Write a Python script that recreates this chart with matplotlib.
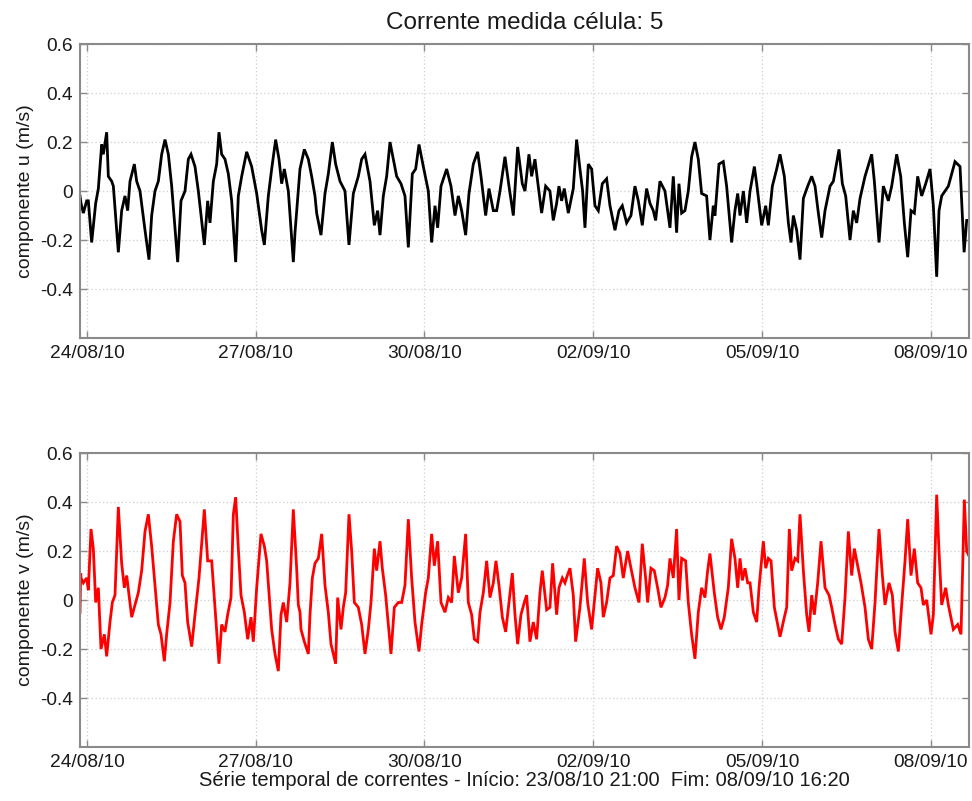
import datetime as dt
import numpy as np
import matplotlib
matplotlib.use("Agg")
import matplotlib.pyplot as plt
import matplotlib.dates as mdates

plt.rcParams['font.family'] = ['Liberation Sans', 'DejaVu Sans']

start = dt.datetime(2010, 8, 23, 21, 0)
end = dt.datetime(2010, 9, 8, 16, 20)

# hours since start, u component (m/s)
u_hours = [0, 0.43, 1.43, 2.85, 3.56, 4.98, 6.69, 7.83, 9.25, 9.96, 11.38, 12.09, 13.52, 14.23, 16.36, 17.78,
           19.2, 20.34, 21.34, 23.19, 24.18, 25.6, 27.74, 29.44, 30.58, 32.0, 33.43, 34.85, 36.27, 37.7, 39.12,
           41.68, 43.1, 44.81, 46.23, 47.37, 49.07, 50.5, 53.06, 54.48, 55.47, 56.9, 58.32, 59.31, 60.45, 61.87,
           63.3, 64.72, 66.43, 67.56, 68.99, 71.12, 73.25, 75.39, 77.52, 78.66, 80.36, 81.79, 83.49, 84.91, 86.05,
           87.19, 88.9, 91.03, 91.74, 93.87, 95.72, 97.43, 98.85, 100.27, 100.98, 102.83, 104.54, 105.96, 107.67,
           109.09, 110.94, 113.07, 114.78, 116.63, 118.76, 120.19, 121.61, 123.74, 125.59, 127.01, 128.01, 129.43,
           130.85, 132.28, 133.7, 135.12, 136.97, 138.67, 140.1, 141.8, 143.23, 144.65, 146.5, 148.63, 150.05,
           151.48, 152.61, 154.04, 156.45, 158.3, 160.01, 161.43, 162.86, 164.56, 165.98, 167.83, 169.68, 171.1,
           173.1, 174.52, 176.37, 177.79, 179.21, 181.34, 183.05, 184.9, 186.75, 188.73, 189.87, 191.57, 192.71,
           194.13, 195.27, 196.98, 198.69, 200.53, 201.96, 203.38, 204.37, 205.51, 206.65, 208.36, 210.49, 211.91,
           213.33, 214.47, 215.47, 216.89, 218.31, 219.74, 221.16, 222.87, 224.71, 226.14, 228.27, 229.98, 231.4,
           233.25, 235.1, 236.8, 238.23, 239.93, 241.78, 243.2, 244.62, 245.62, 247.47, 249.6, 251.74, 253.16,
           254.58, 255.58, 256.72, 258.14, 259.56, 260.98, 262.4, 263.83, 265.25, 267.38, 268.8, 270.23, 270.94,
           272.65, 274.49, 275.92, 278.05, 279.47, 280.64, 281.63, 283.06, 284.48, 285.9, 287.75, 288.74, 290.88,
           292.59, 293.72, 295.43, 297.28, 298.7, 300.55, 302.26, 303.39, 304.39, 305.81, 307.23, 308.66, 310.51,
           312.21, 313.64, 315.06, 316.48, 317.9, 320.04, 321.46, 323.88, 325.3, 326.72, 328.57, 329.99, 331.41,
           332.84, 334.97, 337.81, 338.95, 340.94, 342.79, 344.93, 346.35, 348.48, 350.19, 351.75, 353.18, 354.6,
           356.02, 357.44, 359.15, 360.86, 362.71, 364.13, 365.55, 366.55, 367.68, 370.53, 373.37, 375.51, 377.25,
           378.35, 379.33]
u_values = [-0.02, -0.05, -0.09, -0.04, -0.04, -0.21, -0.05, 0.01, 0.19, 0.15, 0.24, 0.06, 0.04, 0.02, -0.25, -0.08,
            -0.02, -0.08, 0.04, 0.11, 0.04, 0.0, -0.16, -0.28, -0.10, 0.0, 0.04, 0.15, 0.21, 0.15, 0.02,
            -0.29, -0.04, 0.0, 0.13, 0.15, 0.10, 0.0, -0.22, -0.04, -0.13, 0.04, 0.11, 0.24, 0.15, 0.13,
            0.07, -0.04, -0.29, -0.02, 0.06, 0.16, 0.10, -0.01, -0.16, -0.22, -0.02, 0.09, 0.21, 0.13, 0.03,
            0.09, 0.0, -0.29, -0.17, 0.09, 0.17, 0.13, 0.06, -0.02, -0.09, -0.18, -0.01, 0.07, 0.20,
            0.11, 0.04, 0.0, -0.22, -0.01, 0.06, 0.13, 0.15, 0.04, -0.14, -0.08, -0.18, -0.02,
            0.06, 0.20, 0.13, 0.06, 0.03, -0.02, -0.23, 0.07, 0.09, 0.19, 0.10, 0.0, -0.21,
            -0.06, -0.15, 0.02, 0.09, 0.02, -0.10, -0.02, -0.08, -0.18, -0.01, 0.11, 0.16, 0.06,
            -0.10, 0.01, -0.08, -0.08, 0.0, 0.14, 0.02, -0.10, 0.18, 0.03, 0.0, 0.15, 0.06,
            0.13, 0.04, -0.09, 0.02, 0.0, -0.12, -0.05, 0.02, -0.04, 0.01, -0.09, 0.01, 0.21,
            0.09, 0.0, -0.15, 0.11, 0.09, -0.06, -0.08, 0.03, 0.05, -0.06, -0.16, -0.08, -0.06,
            -0.13, -0.10, 0.02, -0.04, -0.14, 0.01, -0.05, -0.08, -0.12, 0.04, 0.0, -0.15, 0.06,
            -0.17, 0.03, -0.09, -0.08, 0.0, 0.14, 0.20, 0.13, -0.01, -0.02, -0.20, -0.06, -0.10,
            0.11, 0.12, 0.02, -0.21, -0.08, -0.01, -0.10, 0.0, -0.13, 0.0, 0.10, 0.03, -0.14,
            -0.06, -0.14, 0.02, 0.09, 0.15, 0.06, -0.13, -0.21, -0.10, -0.16, -0.28, -0.03, 0.02,
            0.06, 0.02, -0.09, -0.19, -0.08, 0.02, 0.04, 0.17, 0.03, -0.02, -0.20, -0.08, -0.13,
            -0.03, 0.06, 0.15, 0.04, -0.21, 0.02, -0.04, 0.02, 0.15, 0.06, -0.13, -0.27, -0.08,
            -0.09, 0.06, -0.02, 0.03, 0.09, -0.06, -0.35, -0.08, -0.02, 0.02, 0.12, 0.10, -0.25,
            -0.12, -0.12]

# hours since start, v component (m/s)
v_hours = [0, 0.3, 0.43, 1.43, 2.85, 3.56, 4.7, 5.69, 6.69, 7.83, 8.96, 10.39, 11.38, 12.8, 13.8, 14.94, 16.36,
           17.78, 18.92, 19.92, 20.91, 22.05, 23.47, 24.89, 26.32, 27.74, 29.16, 30.58, 32.0, 33.43, 34.56, 35.99,
           36.98, 38.41, 39.83, 41.25, 42.67, 43.67, 44.81, 45.94, 47.65, 49.07, 50.78, 51.92, 53.06, 54.48, 56.19,
           57.32, 59.31, 60.45, 61.87, 63.01, 64.43, 65.43, 66.43, 67.56, 68.7, 70.12, 71.55, 72.97, 73.96, 75.39,
           77.23, 78.66, 79.65, 81.79, 83.21, 84.63, 85.77, 86.76, 88.19, 89.61, 91.03, 91.74, 92.45, 93.16, 93.88,
           94.3, 95.72, 97.43, 98.14, 99.14, 100.27, 101.7, 103.12, 104.54, 105.96, 107.1, 109.09, 109.95, 111.37,
           112.36, 113.36, 114.78, 115.92, 117.06, 118.76, 120.19, 121.61, 123.03, 124.17, 125.59, 126.59, 128.01,
           129.0, 130.43, 132.7, 134.12, 135.83, 137.25, 138.67, 140.1, 141.52, 142.94, 144.65, 145.79, 147.49,
           148.63, 150.05, 151.19, 152.61, 154.04, 155.74, 157.17, 158.59, 159.73, 161.43, 162.86, 164.56, 165.7,
           167.12, 168.26, 169.68, 170.68, 172.1, 173.52, 174.94, 176.37, 177.5, 178.78, 180.21, 181.63, 183.05,
           184.47, 185.61, 186.75, 188.16, 189.58, 190.58, 192.0, 193.42, 194.84, 196.27, 197.26, 199.11, 200.53,
           201.67, 203.38, 204.37, 205.8, 206.93, 207.93, 209.07, 210.49, 211.49, 213.33, 215.18, 216.61, 218.31,
           219.74, 220.87, 222.3, 223.29, 224.71, 226.14, 227.56, 228.98, 230.4, 231.82, 233.67, 235.1, 236.8,
           238.51, 239.93, 241.35, 242.21, 243.63, 245.05, 246.47, 247.9, 249.6, 250.74, 251.74, 253.16, 254.58,
           255.58, 256.72, 258.42, 259.56, 260.98, 262.4, 263.83, 265.25, 266.67, 267.81, 268.8, 270.65, 272.08,
           273.5, 274.92, 276.63, 278.05, 279.47, 280.64, 281.63, 282.63, 283.77, 284.9, 285.9, 287.32, 288.74,
           289.74, 291.59, 292.59, 293.72, 294.86, 296.28, 297.71, 298.7, 300.55, 301.55, 302.68, 303.68, 305.1,
           306.24, 307.23, 308.66, 310.08, 311.08, 312.21, 313.35, 314.77, 316.2, 317.9, 319.61, 320.75, 322.17,
           323.59, 325.01, 326.44, 327.86, 329.28, 330.42, 331.84, 333.26, 334.97, 336.39, 337.81, 339.24, 340.94,
           342.37, 343.5, 345.21, 346.63, 347.77, 349.19, 350.62, 352.04, 353.18, 354.6, 356.02, 357.44, 358.86,
           359.86, 361.28, 363.13, 364.13, 365.55, 366.55, 367.68, 369.39, 370.53, 372.66, 374.51, 375.93, 377.35,
           378.35, 379.33]
v_values = [-0.05, 0.11, 0.09, 0.07, 0.09, 0.04, 0.29, 0.21, -0.01, 0.05, -0.20, -0.14, -0.23, -0.09, -0.01, 0.02, 0.38,
            0.15, 0.05, 0.10, 0.02, -0.07, -0.02, 0.03, 0.12, 0.28, 0.35, 0.22, 0.06, -0.10, -0.14, -0.25,
            -0.14, -0.01, 0.24, 0.35, 0.32, 0.10, 0.07, -0.09, -0.19, -0.06, 0.09, 0.23, 0.37, 0.16, 0.16,
            0.01, -0.26, -0.10, -0.13, -0.06, 0.01, 0.35, 0.42, 0.21, 0.02, -0.05, -0.16, -0.07, -0.17, 0.05,
            0.27, 0.22, 0.16, -0.12, -0.22, -0.29, -0.06, -0.01, -0.09, 0.07, 0.37, 0.25, 0.13, -0.02, -0.05,
            -0.12, -0.17, -0.22, -0.06, 0.09, 0.15, 0.17, 0.27, 0.06, -0.05, -0.18, -0.26, 0.01, -0.12,
            -0.03, 0.03, 0.35, 0.20, -0.01, -0.03, -0.10, -0.22, -0.12, -0.01, 0.21, 0.12, 0.24,
            0.13, 0.02, -0.22, -0.03, -0.01, -0.01, 0.06, 0.33, 0.09, -0.09, -0.21, -0.10, 0.03,
            0.09, 0.27, 0.14, 0.24, -0.01, -0.05, 0.01, -0.01, 0.18, 0.03, 0.09, 0.27, -0.01,
            -0.06, -0.16, -0.17, -0.05, 0.03, 0.16, 0.01, 0.07, 0.16, 0.06, -0.07, -0.13, -0.01,
            0.11, -0.06, -0.18, -0.06, -0.01, 0.02, -0.17, -0.09, -0.16, 0.03, 0.12, -0.04, -0.03,
            0.15, -0.06, 0.05, 0.09, 0.07, 0.10, 0.13, 0.02, -0.17, -0.03, 0.17, -0.01, -0.12,
            0.02, 0.13, 0.07, -0.07, -0.01, 0.09, 0.10, 0.22, 0.19, 0.09, 0.20, 0.13, 0.05,
            -0.01, 0.23, 0.09, -0.01, 0.13, 0.12, 0.05, -0.03, 0.01, 0.06, 0.17, 0.09, 0.29,
            0.0, 0.17, 0.16, -0.01, -0.14, -0.24, -0.05, 0.05, 0.01, 0.12, 0.19, 0.03, -0.07,
            -0.12, -0.07, 0.05, 0.25, 0.17, 0.05, 0.17, 0.08, 0.13, 0.07, 0.07, -0.05, -0.09,
            0.05, 0.24, 0.13, 0.17, 0.16, -0.03, -0.10, -0.15, -0.07, -0.03, 0.29, 0.12, 0.17,
            0.16, 0.35, 0.12, -0.06, -0.13, 0.02, -0.06, 0.07, 0.24, 0.05, 0.02, -0.03, -0.10,
            -0.16, -0.18, 0.01, 0.28, 0.10, 0.21, 0.14, 0.07, -0.03, -0.16, -0.20, -0.01, 0.29,
            0.10, -0.02, 0.07, 0.02, -0.13, -0.21, -0.02, 0.16, 0.33, 0.10, 0.21, 0.07, 0.05,
            -0.02, 0.0, -0.14, -0.06, 0.43, 0.20, -0.02, 0.05, -0.02, -0.12, -0.10, -0.14, 0.41,
            0.20, 0.18]

tick_dates = ["2010-08-24", "2010-08-27", "2010-08-30", "2010-09-02", "2010-09-05", "2010-09-08"]
y_ticks = [-0.4, -0.2, 0, 0.2, 0.4, 0.6]
y_tick_labels = ["-0.4", "-0.2", "0", "0.2", "0.4", "0.6"]

title_text = "Corrente medida célula: 5"
ylabel_u = "componente u (m/s)"
ylabel_v = "componente v (m/s)"
xlabel_text = "Série temporal de correntes - Início: 23/08/10 21:00  Fim: 08/09/10 16:20"

u_t = [start + dt.timedelta(hours=h) for h in u_hours]
v_t = [start + dt.timedelta(hours=h) for h in v_hours]
ticks = [dt.datetime.strptime(s, "%Y-%m-%d") for s in tick_dates]

fig = plt.figure(figsize=(9.72, 8.01), dpi=100)
ax1 = fig.add_axes([0.0823, 0.578, 0.9146, 0.367])
ax2 = fig.add_axes([0.0823, 0.0674, 0.9146, 0.367])

edge = "#8a8a8a"
for ax, t, vals, col, yl in [(ax1, u_t, u_values, "black", ylabel_u),
                              (ax2, v_t, v_values, "#ff0000", ylabel_v)]:
    ax.plot(t, vals, color=col, lw=2.0, solid_joinstyle='miter')
    ax.set_xlim(start, end)
    ax.set_ylim(-0.6, 0.6)
    ax.set_yticks(y_ticks)
    ax.set_yticklabels(y_tick_labels)
    ax.set_xticks(ticks)
    ax.xaxis.set_major_formatter(mdates.DateFormatter("%d/%m/%y"))
    ax.grid(True, linestyle=(0, (1, 2)), color="#cfcfcf", lw=0.9)
    ax.tick_params(direction="in", length=5, width=1, color=edge, labelsize=13.8,
                   top=True, right=True, pad=5, labelcolor="#1a1a1a")
    for s in ax.spines.values():
        s.set_color(edge)
        s.set_linewidth(1.5)
    ax.set_ylabel(yl, fontsize=14, labelpad=4, color="#1a1a1a")

ax1.set_title(title_text, fontsize=17.5, pad=11, color="#1a1a1a")
ax2.set_xlabel(xlabel_text, fontsize=14.5, labelpad=0, color="#1a1a1a")

fig.savefig("out.png", dpi=100)
